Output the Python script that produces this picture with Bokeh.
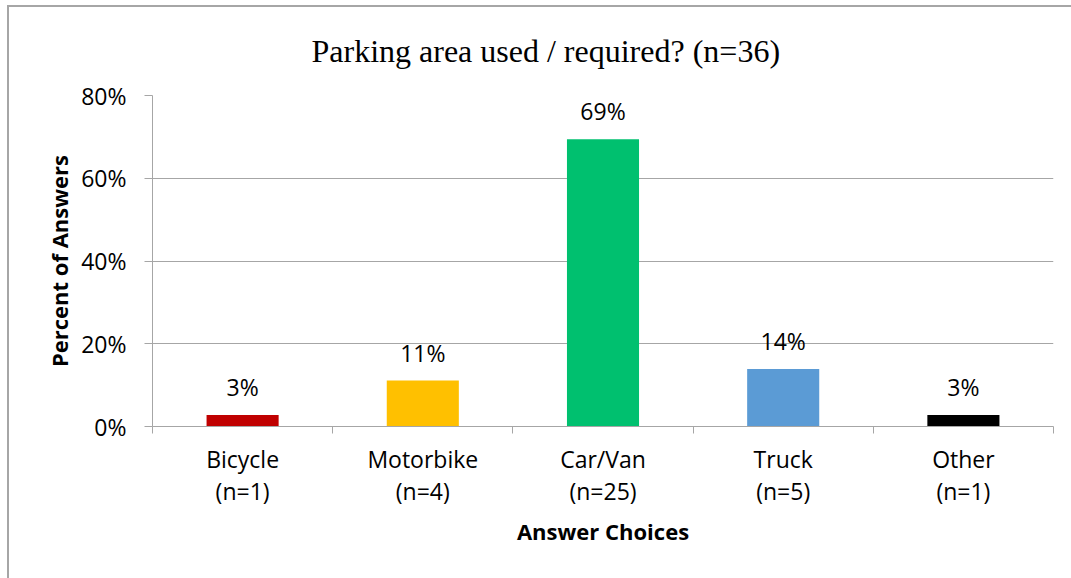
from bokeh.plotting import figure
from bokeh.models import Range1d, FixedTicker, PrintfTickFormatter, ColumnDataSource
from bokeh.core.properties import value
from bokeh.embed import file_html
from bokeh.resources import INLINE

# ---- data ----
categories = ["Bicycle", "Motorbike", "Car/Van", "Truck", "Other"]
counts = [1, 4, 25, 5, 1]
percents = [2.78, 11.11, 69.44, 13.89, 2.78]
colors = ["#C00000", "#FFC000", "#00C06F", "#5B9BD5", "#000000"]
y_ticks = [0, 20, 40, 60, 80]
title_text = "Parking area used / required? (n=36)"

x_centers = [i + 0.5 for i in range(len(categories))]
boundaries = list(range(len(categories) + 1))
labels = [f"{round(v)}%" for v in percents]

src = ColumnDataSource(dict(x=x_centers, pct=percents, color=colors, label=labels))

GRAY = "#A6A6A6"
FONT = "Open Sans"
FS = "23px"

p = figure(width=1071, height=578,
           x_range=Range1d(0, len(categories)), y_range=Range1d(0, 80),
           output_backend="svg", toolbar_location=None,
           min_border_left=152, min_border_right=18,
           min_border_top=95, min_border_bottom=152)
p.border_fill_color = None
p.background_fill_color = "white"
p.styles = {
    "background": (f"linear-gradient({GRAY},{GRAY}) 7px 5px / 1064px 2px no-repeat, "
                   f"linear-gradient({GRAY},{GRAY}) 7px 5px / 2px 573px no-repeat, white")
}
p.outline_line_color = None

# title
p.title.text = title_text
p.title.text_font = "Liberation Serif"
p.title.text_font_size = "32px"
p.title.text_font_style = "normal"
p.title.text_color = "black"
p.title.align = "left"
p.title.offset = 159
p.title.standoff = 54

# bars
p.vbar(x="x", top="pct", width=0.4, fill_color="color", line_color=None, source=src)
p.text(x="x", y="pct", text="label", source=src, text_align="center",
       text_baseline="bottom", y_offset=-12, text_font=value(FONT),
       text_font_size=FS, text_color="black")

# y axis
yax = p.yaxis[0]
yax.ticker = FixedTicker(ticks=y_ticks)
yax.formatter = PrintfTickFormatter(format="%d%%")
yax.major_tick_in = 0
yax.major_tick_out = 8
yax.minor_tick_line_color = None
yax.axis_line_color = GRAY
yax.major_tick_line_color = GRAY
yax.major_label_text_font = FONT
yax.major_label_text_font_size = FS
yax.major_label_text_color = "black"
yax.major_label_standoff = 18
yax.axis_label = "Percent of Answers"
yax.axis_label_text_font = FONT
yax.axis_label_text_font_size = "22px"
yax.axis_label_text_font_style = "bold"
yax.axis_label_text_color = "black"
yax.axis_label_standoff = 4

# x axis
xax = p.xaxis[0]
xax.ticker = FixedTicker(ticks=x_centers, minor_ticks=boundaries)
xax.major_label_overrides = {x: f"{c}\n(n={n})" for x, c, n in zip(x_centers, categories, counts)}
xax.major_tick_in = 0
xax.major_tick_out = 0
xax.minor_tick_in = 0
xax.minor_tick_out = 7
xax.minor_tick_line_color = GRAY
xax.axis_line_color = GRAY
xax.major_label_text_font = FONT
xax.major_label_text_font_size = FS
xax.major_label_text_color = "black"
xax.major_label_text_line_height = 1.0
xax.major_label_standoff = 9
xax.axis_label = "Answer Choices"
xax.axis_label_text_font = FONT
xax.axis_label_text_font_size = "22px"
xax.axis_label_text_font_style = "bold"
xax.axis_label_text_color = "black"
xax.axis_label_standoff = 6

# grid
p.xgrid.visible = False
p.ygrid.ticker = FixedTicker(ticks=y_ticks)
p.ygrid.grid_line_color = GRAY

open("out.html", "w").write(file_html(p, INLINE))
